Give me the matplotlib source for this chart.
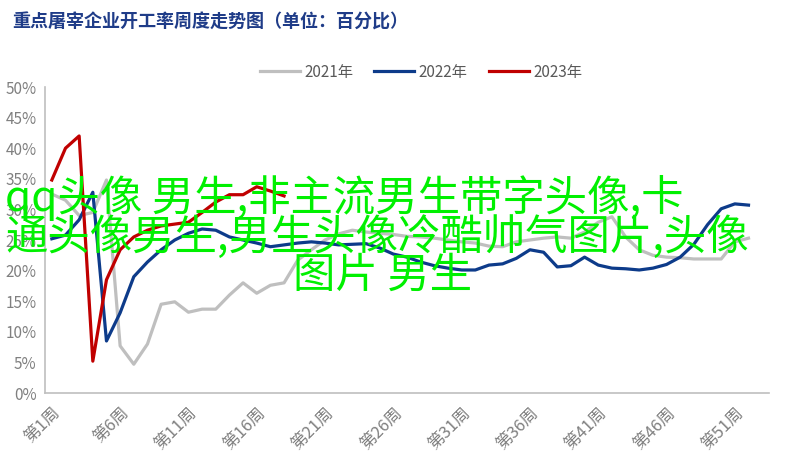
import numpy as np
import matplotlib.pyplot as plt

plt.rcParams['font.family'] = ['Noto Sans CJK SC', 'DejaVu Sans']

weeks = list(range(1, 53))
tick_weeks = [1, 6, 11, 16, 21, 26, 31, 36, 41, 46, 51]
tick_labels = ['第%d周' % w for w in tick_weeks]

y2021 = [32.5, 31.5, 29.0, 29.5, 34.8, 7.7, 4.7, 8.0, 14.5, 14.9,
         13.2, 13.7, 13.7, 16.0, 18.0, 16.3, 17.6, 18.0, 21.7, 23.4,
         25.0, 26.0, 26.6, 26.3, 26.1, 25.9, 25.6, 25.5, 25.3, 25.0,
         24.7, 24.5, 24.0, 23.9, 24.7, 25.0, 25.3, 25.5, 25.3, 26.3,
         27.9, 28.8, 25.5, 23.4, 22.5, 22.2, 22.1, 21.9, 21.9, 21.9,
         24.7, 25.3]
y2022 = [25.2, 25.8, 28.3, 32.8, 8.5, 13.1, 19.0, 21.4, 23.4, 25.0,
         26.1, 26.8, 26.6, 25.5, 25.0, 24.5, 23.9, 24.2, 24.5, 24.7,
         24.5, 24.2, 24.3, 24.4, 23.7, 22.7, 22.2, 21.4, 20.8, 20.4,
         20.1, 20.1, 20.9, 21.1, 22.0, 23.4, 23.0, 20.6, 20.8, 22.2,
         20.9, 20.4, 20.3, 20.1, 20.4, 21.0, 22.2, 24.3, 27.5, 30.1,
         30.9, 30.7]
y2023 = [34.8, 40.0, 42.0, 5.2, 18.5, 23.4, 25.5, 26.6, 27.3, 27.6,
         27.9, 29.5, 31.2, 32.4, 32.4, 33.7, 33.0, 32.2]

fig = plt.figure(figsize=(7.93, 4.61), dpi=100)
ax = fig.add_axes([45 / 793, 1 - 393 / 461, (769 - 45) / 793, (393 - 87) / 461])

ax.plot(weeks, y2021, color='#bfbfbf', lw=2.3, label='2021年')
ax.plot(weeks, y2022, color='#0d3b8a', lw=2.3, label='2022年')
ax.plot(weeks[:len(y2023)], y2023, color='#c00000', lw=2.3, label='2023年')

ax.set_xlim(0.5, 53.5)
ax.set_ylim(0, 50)
ax.set_yticks(range(0, 51, 5))
ax.set_yticklabels(['%d%%' % v for v in range(0, 51, 5)])
ax.set_xticks(tick_weeks)
ax.set_xticklabels(tick_labels, rotation=45, ha='right', rotation_mode='anchor')
ax.tick_params(axis='both', length=0, labelsize=11, labelcolor='#808080')
ax.tick_params(axis='x', pad=8, labelsize=12)
ax.tick_params(axis='y', pad=6)
for s in ['top', 'right']:
    ax.spines[s].set_visible(False)
for s in ['left', 'bottom']:
    ax.spines[s].set_color('#bfbfbf')
    ax.spines[s].set_linewidth(1.2)

fig.legend(loc='center', bbox_to_anchor=(0.531, 1 - 72 / 461), ncol=3,
           frameon=False, fontsize=11, handlelength=2.6, columnspacing=1.4,
           handletextpad=0.3, labelcolor='#595959')

fig.text(12 / 793, 1 - 22 / 461, '重点屠宰企业开工率周度走势图（单位：百分比）',
         fontsize=13, fontweight='bold', color='#1f3c88', va='center')

green = '#00f000'
fig.text(5 / 793, 1 - 198 / 461, 'qq头像 男生,非主流男生带字头像,卡',
         fontsize=30.5, color=green, va='center', fontweight='medium')
fig.text(5 / 793, 1 - 238 / 461, '通头像男生,男生头像冷酷帅气图片,头像',
         fontsize=30.5, color=green, va='center', fontweight='medium')
fig.text(293 / 793, 1 - 276 / 461, '图片 男生',
         fontsize=30.5, color=green, va='center', fontweight='medium')

fig.savefig('out.png', dpi=100)
